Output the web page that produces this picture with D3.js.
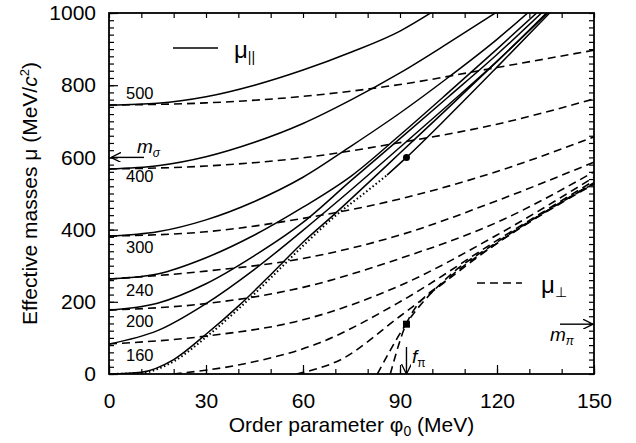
<!DOCTYPE html>
<html><head><meta charset="utf-8">
<script src="https://cdn.jsdelivr.net/npm/d3@7"></script>
<style>
body{margin:0;background:#fff;}
text{font-family:"Liberation Sans",Arial,Helvetica,sans-serif;fill:#000;}
</style></head>
<body><svg id="c" width="636" height="443"></svg>
<script>
// ---- data (phi0 in MeV, mu in MeV/c^2) ----
const xTicks = [0,30,60,90,120,150];
const yTicks = [0,200,400,600,800,1000];
const tempLabels = ["500","400","300","240","200","160"];
const tempStart = [745,568,382,263,177,83];

// mu_parallel (solid)
const par500 = [[0,745],[15,750],[30,768],[45,800],[60,842],[75,892],[90,950],[100,1003]];
const par400 = [[0,568],[15,577],[30,602],[45,642],[60,694],[75,760],[90,834],[105,917],[120,1003]];
const par300 = [[0,382],[15,394],[30,427],[45,478],[60,545],[75,632],[90,723],[105,822],[120,927],[130,1004]];
const par240 = [[0,263],[15,277],[30,322],[45,385],[60,462],[75,549],[90,662],[105,780],[120,900],[132.5,1002]];
const par200 = [[0,177],[15,196],[30,250],[45,328],[60,420],[75,537],[90,652],[105,768],[120,885],[134,1002]];
const par160 = [[0,83],[15,120],[30,195],[45,290],[60,398],[75,511],[90,628],[105,746],[120,866],[135.5,1002]];
const par0   = [[0,0],[10,5],[20,40],[30,110],[40,188],[50,275],[60,365],[70,445],[80,528],[90,612],[105,738],[120,866],[136,1003]];
const parDot = [[0,0],[10,3],[20,35],[30,102],[40,180],[50,266],[60,355],[70,438],[80,508],[86,551]];
const parLow = [[86,551],[92,600],[105,714],[120,850],[136.5,1002]];

// mu_perp (dashed)
const perp500 = [[0,745],[30,751],[60,769],[90,802],[120,849],[150,897]];
const perp400 = [[0,568],[30,576],[60,599],[90,641],[120,692],[150,762]];
const perp300 = [[0,382],[30,394],[60,431],[90,485],[120,561],[150,657]];
const perp240 = [[0,263],[30,285],[60,320],[90,385],[120,480],[150,587]];
const perp200 = [[0,177],[30,195],[60,240],[90,320],[120,420],[150,560]];
const perp160 = [[0,83],[30,105],[60,150],[90,245],[120,385],[150,545]];
const perpA = [[20,0],[40,25],[65,86],[90,200],[120,370],[150,535]];
const perpB = [[58,0],[71.5,39],[90,160],[120,362],[150,530]];
const perpC = [[83,0],[92,140],[105,270],[120,365],[150,528]];
const perpD = [[87,0],[92,140],[105,265],[120,362],[150,526]];

const fPi = 92, mPi = 138, mSigma = 600;

// ---- layout ----
const svg = d3.select("#c");
const L=109, R=594, T=13, B=374;
const x = d3.scaleLinear().domain([0,150]).range([L,R]);
const y = d3.scaleLinear().domain([0,1000]).range([B,T]);

svg.append("defs").append("clipPath").attr("id","clip")
  .append("rect").attr("x",L).attr("y",T).attr("width",R-L).attr("height",B-T);

const line = d3.line().x(d=>x(d[0])).y(d=>y(d[1])).curve(d3.curveMonotoneX);
const g = svg.append("g").attr("clip-path","url(#clip)");

[par500,par400,par300,par240,par200,par160,par0,parLow].forEach(d=>{
  g.append("path").attr("d",line(d)).attr("fill","none").attr("stroke","#000").attr("stroke-width",1.5);
});
g.append("path").attr("d",line(parDot)).attr("fill","none").attr("stroke","#000")
  .attr("stroke-width",2).attr("stroke-dasharray","1.5,2.5");
[perp500,perp400,perp300,perp240,perp200,perp160,perpA,perpB,perpC,perpD].forEach(d=>{
  g.append("path").attr("d",line(d)).attr("fill","none").attr("stroke","#000")
   .attr("stroke-width",1.6).attr("stroke-dasharray","8,5");
});

// ---- axes ----
const minorX = d3.range(0,151,10), minorY = d3.range(0,1001,20);
const axB = d3.axisBottom(x).tickValues(minorX).tickSize(-5).tickFormat("");
const axT = d3.axisTop(x).tickValues(minorX).tickSize(-5).tickFormat("");
const axL = d3.axisLeft(y).tickValues(minorY).tickSize(-5).tickFormat("");
const axR = d3.axisRight(y).tickValues(minorY).tickSize(-5).tickFormat("");
svg.append("g").attr("transform",`translate(0,${B})`).call(axB);
svg.append("g").attr("transform",`translate(0,${T})`).call(axT);
svg.append("g").attr("transform",`translate(${L},0)`).call(axL);
svg.append("g").attr("transform",`translate(${R},0)`).call(axR);
svg.append("g").attr("transform",`translate(0,${B})`)
  .call(d3.axisBottom(x).tickValues(xTicks).tickSize(-9).tickPadding(19).tickFormat(d3.format("d")))
  .call(a=>a.selectAll("text").attr("font-size",21).attr("font-family","Liberation Sans, Arial"));
svg.append("g").attr("transform",`translate(${L},0)`)
  .call(d3.axisLeft(y).tickValues(yTicks).tickSize(-9).tickPadding(13).tickFormat(d3.format("d")))
  .call(a=>a.selectAll("text").attr("font-size",21).attr("font-family","Liberation Sans, Arial"));
svg.selectAll(".domain").remove();
svg.selectAll(".tick line").attr("stroke","#000").attr("stroke-width",1.2);
svg.append("rect").attr("x",L).attr("y",T).attr("width",R-L).attr("height",B-T)
  .attr("fill","none").attr("stroke","#000").attr("stroke-width",1.8);

// ---- titles ----
const xt = svg.append("text").attr("x",(L+R)/2).attr("y",432).attr("text-anchor","middle").attr("font-size",21);
xt.append("tspan").text("Order parameter φ");
xt.append("tspan").attr("font-size",14).attr("dy",4).text("0");
xt.append("tspan").attr("dy",-4).text(" (MeV)");
const yt = svg.append("text").attr("transform",`translate(37,${(T+B)/2}) rotate(-90)`).attr("text-anchor","middle").attr("font-size",21);
yt.append("tspan").text("Effective masses μ (MeV/");
yt.append("tspan").attr("font-style","italic").text("c");
yt.append("tspan").attr("font-size",13).attr("dy",-8).text("2");
yt.append("tspan").attr("dy",8).text(")");

// ---- temperature labels ----
tempLabels.forEach((t,i)=>{
  svg.append("text").attr("x",126).attr("y",y(tempStart[i])+(i<2 ? -6 : 17) + (i==1?19:0))
    .attr("font-size",16.5).text(t);
});

// ---- legends ----
svg.append("line").attr("x1",173).attr("x2",218).attr("y1",48).attr("y2",48).attr("stroke","#000").attr("stroke-width",1.6);
const l1 = svg.append("text").attr("x",234).attr("y",58).attr("font-size",24);
l1.append("tspan").text("μ");
l1.append("tspan").attr("font-size",14).attr("dy",4).text("||");
svg.append("line").attr("x1",477).attr("x2",522).attr("y1",283).attr("y2",283).attr("stroke","#000").attr("stroke-width",1.6).attr("stroke-dasharray","8,5");
const l2 = svg.append("text").attr("x",541).attr("y",293).attr("font-size",24);
l2.append("tspan").text("μ");
l2.append("tspan").attr("font-size",14).attr("dy",4).text("⊥");

// ---- markers and arrows ----
const defs = svg.select("defs");
defs.append("marker").attr("id","ah").attr("viewBox","0 0 10 10").attr("refX",9).attr("refY",5)
  .attr("markerWidth",10).attr("markerHeight",10).attr("markerUnits","userSpaceOnUse").attr("orient","auto")
  .append("path").attr("d","M0,0 L10,5 L0,10").attr("fill","none").attr("stroke","#000").attr("stroke-width",1.3);
svg.append("line").attr("x1",x(0)+35).attr("x2",x(0)+3).attr("y1",y(mSigma)).attr("y2",y(mSigma))
  .attr("stroke","#000").attr("stroke-width",1.4).attr("marker-end","url(#ah)");
const ms = svg.append("text").attr("x",137).attr("y",153).attr("font-size",19).attr("font-style","italic");
ms.append("tspan").text("m");
ms.append("tspan").attr("font-size",12).attr("dy",4).text("σ");
svg.append("line").attr("x1",x(150)-34).attr("x2",x(150)-2).attr("y1",y(mPi)).attr("y2",y(mPi))
  .attr("stroke","#000").attr("stroke-width",1.4).attr("marker-end","url(#ah)");
const mp = svg.append("text").attr("x",550).attr("y",341).attr("font-size",19).attr("font-style","italic");
mp.append("tspan").text("m");
mp.append("tspan").attr("font-size",12).attr("dy",4).text("π");
svg.append("line").attr("x1",x(fPi)).attr("x2",x(fPi)).attr("y1",347).attr("y2",B-1)
  .attr("stroke","#000").attr("stroke-width",1.4).attr("marker-end","url(#ah)");
const fp = svg.append("text").attr("x",412).attr("y",363).attr("font-size",19).attr("font-style","italic");
fp.append("tspan").text("f");
fp.append("tspan").attr("font-size",12).attr("dy",4).attr("font-style","normal").text("π");
svg.append("rect").attr("x",x(fPi)-3.5).attr("y",y(mPi)-3.5).attr("width",7).attr("height",7).attr("fill","#000");
svg.append("circle").attr("cx",x(fPi)).attr("cy",y(mSigma)).attr("r",3.5).attr("fill","#000");
</script></body></html>
